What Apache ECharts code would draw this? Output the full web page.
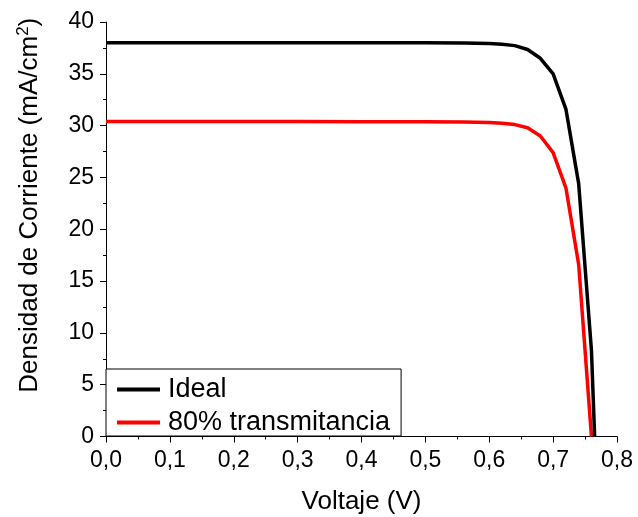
<!DOCTYPE html>
<html>
<head>
<meta charset="utf-8">
<script src="https://cdn.jsdelivr.net/npm/echarts@6/dist/echarts.min.js"></script>
<style>html,body{margin:0;padding:0;background:#fff}#c{width:638px;height:517px}</style>
</head>
<body>
<div id="c"></div>
<script>
const voltIdeal = [0.00,0.10,0.20,0.30,0.40,0.50,0.56,0.60,0.62,0.64,0.66,0.68,0.70,0.72,0.74,0.76,0.765];
const jIdeal    = [38.0,38.0,38.0,38.0,38.0,37.99,37.97,37.93,37.85,37.72,37.35,36.5,35.0,31.6,24.4,8.3,0];
const voltTrans = [0.00,0.10,0.20,0.30,0.40,0.50,0.56,0.60,0.62,0.64,0.66,0.68,0.70,0.72,0.74,0.76];
const jTrans    = [30.4,30.4,30.4,30.4,30.38,30.37,30.35,30.3,30.22,30.1,29.8,29.0,27.4,24.0,16.6,0];
const seriesNames = ['Ideal','80% transmitancia'];
const xTitle = 'Voltaje (V)';
const yTitle = 'Densidad de Corriente (mA/cm{sup|2})';

const font = '"Liberation Sans", Arial, sans-serif';
const chart = echarts.init(document.getElementById('c'), null, {renderer:'canvas'});
chart.setOption({
  animation:false,
  backgroundColor:'#fff',
  grid:{left:106, top:22, width:511, height:414.5, containLabel:false, outerBoundsMode:'none'},
  legend:{
    orient:'vertical', left:106, top:369,
    padding:[7,11,0,11], itemGap:6,
    itemWidth:43, itemHeight:4, icon:'rect',
    borderColor:'#000', borderWidth:1, backgroundColor:'#fff',
    textStyle:{fontFamily:font, fontSize:27, color:'#000', padding:[0,0,0,3]},
    data:seriesNames
  },
  xAxis:{
    type:'value', min:0, max:0.8, interval:0.1,
    name:xTitle, nameLocation:'middle', nameGap:52,
    nameTextStyle:{fontFamily:font, fontSize:26, color:'#000'},
    axisLine:{show:true, lineStyle:{color:'#000', width:1}},
    axisTick:{show:true, inside:false, length:6, lineStyle:{color:'#000'}},
    minorTick:{show:true, splitNumber:2, length:3, lineStyle:{color:'#000'}},
    splitLine:{show:false},
    axisLabel:{fontFamily:font, fontSize:23, color:'#000', margin:13,
      formatter:v=>v.toFixed(1).replace('.',',')}
  },
  yAxis:{
    type:'value', min:0, max:40, interval:5,
    name:yTitle, nameLocation:'middle', nameRotate:90, nameGap:61,
    nameTextStyle:{fontFamily:font, fontSize:26, color:'#000', padding:[0,0,0,48],
      rich:{sup:{fontFamily:font, fontSize:17, color:'#000', padding:[0,0,13,0]}}},
    axisLine:{show:true, lineStyle:{color:'#000', width:1}},
    axisTick:{show:true, inside:false, length:6, lineStyle:{color:'#000'}},
    minorTick:{show:true, splitNumber:2, length:3, lineStyle:{color:'#000'}},
    splitLine:{show:false},
    axisLabel:{fontFamily:font, fontSize:23, color:'#000', margin:12}
  },
  series:[
    {name:seriesNames[0], type:'line', showSymbol:false, symbol:'none',
      data:voltIdeal.map((v,i)=>[v,jIdeal[i]]),
      lineStyle:{color:'#000', width:3.5}, itemStyle:{color:'#000'}, z:3},
    {name:seriesNames[1], type:'line', showSymbol:false, symbol:'none',
      data:voltTrans.map((v,i)=>[v,jTrans[i]]),
      lineStyle:{color:'#ff0000', width:3.5}, itemStyle:{color:'#ff0000'}, z:2}
  ]
});
</script>
</body>
</html>
